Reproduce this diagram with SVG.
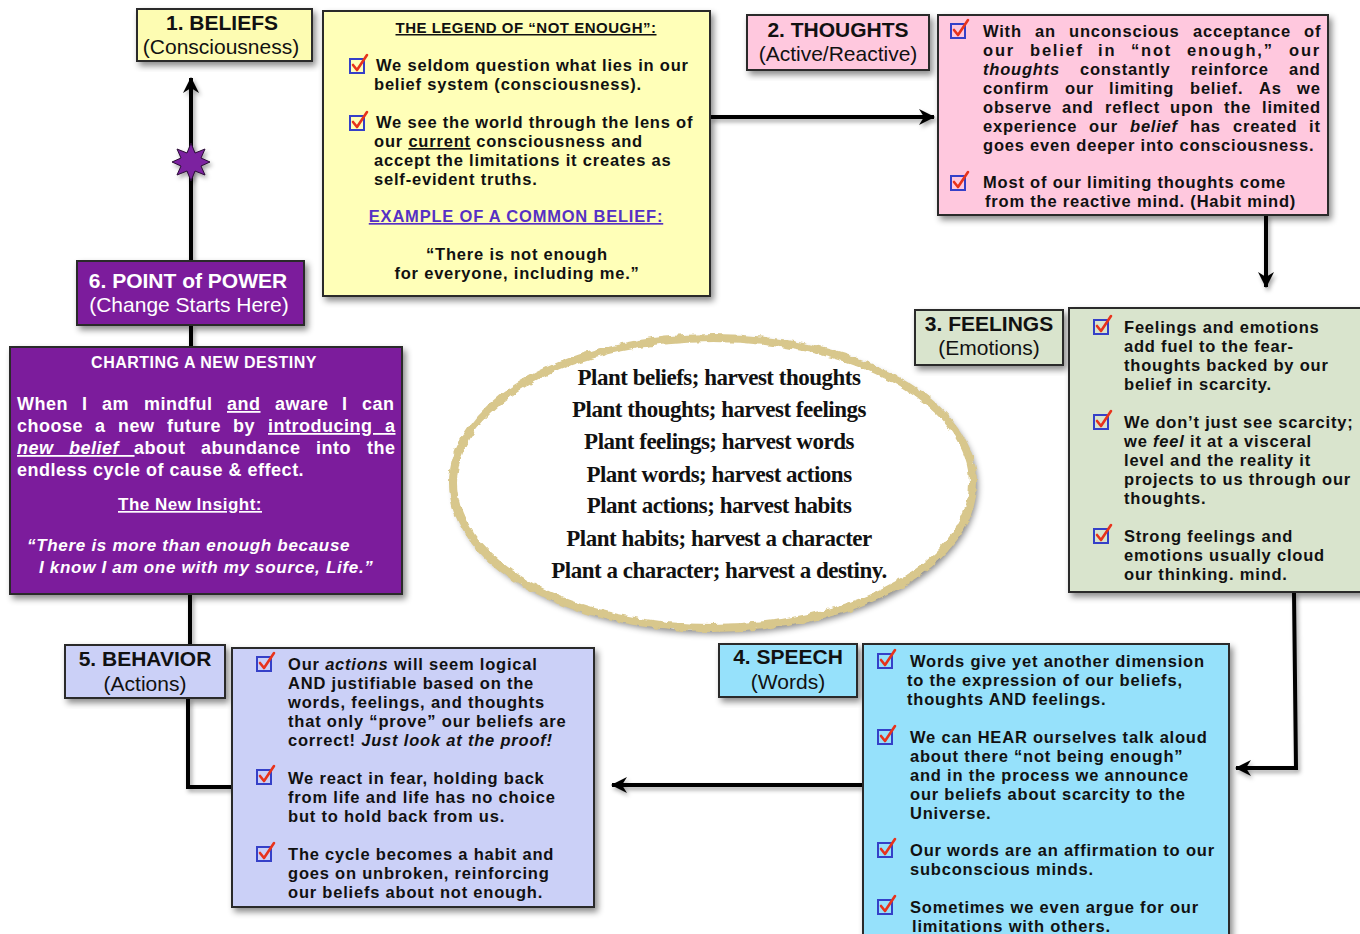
<svg xmlns="http://www.w3.org/2000/svg" xmlns:xlink="http://www.w3.org/1999/xlink" width="1360" height="934" viewBox="0 0 1360 934">
<defs>
<style>
.b{font-family:"Liberation Sans",Arial,sans-serif;font-weight:bold;font-size:16.5px;letter-spacing:0.8px;fill:#111}
.t1{font-family:"Liberation Sans",Arial,sans-serif;font-weight:bold;font-size:21px;fill:#111;text-anchor:middle}
.t2{font-family:"Liberation Sans",Arial,sans-serif;font-size:21px;fill:#111;text-anchor:middle}
.c{font-family:"Liberation Sans",Arial,sans-serif;font-weight:bold;font-size:18px;letter-spacing:0.5px;fill:#fff}
.p{font-family:"Liberation Serif","Times New Roman",serif;font-weight:bold;font-size:23px;letter-spacing:-0.5px;fill:#111;text-anchor:middle}
.u{text-decoration:underline}
.i{font-style:italic}
.box{stroke:#2a2a2a;stroke-width:2;filter:url(#sh)}
.ln{fill:none;stroke:#000;stroke-width:4;filter:url(#sh2)}
</style>
<filter id="sh" x="-10%" y="-10%" width="130%" height="130%">
<feDropShadow dx="3" dy="4" stdDeviation="3" flood-color="#000" flood-opacity="0.45"/>
</filter>
<filter id="sh2" filterUnits="userSpaceOnUse" x="0" y="0" width="1360" height="934">
<feDropShadow dx="2" dy="3" stdDeviation="2" flood-color="#000" flood-opacity="0.35"/>
</filter>
<filter id="rough" x="-5%" y="-5%" width="110%" height="110%">
<feTurbulence type="fractalNoise" baseFrequency="0.12" numOctaves="2" seed="3"/>
<feDisplacementMap in="SourceGraphic" scale="6" xChannelSelector="R" yChannelSelector="G"/>
</filter>
<marker id="ah" viewBox="-16 -9 18 18" markerWidth="18" markerHeight="18" refX="0" refY="0" orient="auto" markerUnits="userSpaceOnUse">
<path d="M1,0 L-15,-8 L-10,0 L-15,8 Z" fill="#000"/>
</marker>
<g id="chk">
<rect x="0" y="2" width="14" height="14" fill="none" stroke="#3540c8" stroke-width="2"/>
<path d="M3,8 L7,13 L17,-2" fill="none" stroke="#e8331c" stroke-width="2.6" stroke-linecap="round" stroke-linejoin="round"/>
</g>
</defs>
<rect width="1360" height="934" fill="#fff"/>

<g id="connectors">
<path class="ln" d="M191,261 V78" marker-end="url(#ah)"/>
<path class="ln" d="M191,325 V348"/>
<path class="ln" d="M190,594 V646"/>
<path class="ln" d="M188,698 V787 H233"/>
<path class="ln" d="M710,117 H934" marker-end="url(#ah)"/>
<path class="ln" d="M1266,215 V287" marker-end="url(#ah)"/>
<path class="ln" d="M1294,592 L1296,768 H1236" marker-end="url(#ah)"/>
<path class="ln" d="M862,785 H612" marker-end="url(#ah)"/>
<polygon points="191,143 195,153 205,149 201,158 210,162 201,166 205,175 195,171 191,181 187,171 177,175 181,166 172,162 181,158 177,149 187,153" fill="#7b22a0" stroke="#2a0a35" stroke-width="1" filter="url(#sh2)"/>
</g>

<g id="ellipse">
<ellipse cx="713" cy="483" rx="262" ry="147" fill="#fff" filter="url(#sh)"/>
<ellipse cx="713" cy="483" rx="260" ry="145" fill="none" stroke="#d8c78c" stroke-width="8" filter="url(#rough)"/>
<text class="p" x="719" y="385">Plant beliefs; harvest thoughts</text>
<text class="p" x="719" y="417">Plant thoughts; harvest feelings</text>
<text class="p" x="719" y="449">Plant feelings; harvest words</text>
<text class="p" x="719" y="482">Plant words; harvest actions</text>
<text class="p" x="719" y="513">Plant actions; harvest habits</text>
<text class="p" x="719" y="546">Plant habits; harvest a character</text>
<text class="p" x="719" y="578">Plant a character; harvest a destiny.</text>
</g>

<g id="beliefs">
<rect class="box" x="137" y="9" width="175" height="52" fill="#fdfcb2"/>
<text class="t1" x="222" y="30">1. BELIEFS</text>
<text class="t2" x="221" y="54">(Consciousness)</text>
</g>

<g id="legend">
<rect class="box" x="323" y="11" width="387" height="285" fill="#ffffb8"/>
<text class="b u" x="526" y="33" text-anchor="middle" style="font-size:15px;letter-spacing:0.5px">THE LEGEND OF “NOT ENOUGH”:</text>
<use xlink:href="#chk" x="350" y="57"/>
<text class="b" x="376" y="71">We seldom question what lies in our</text>
<text class="b" x="374" y="90">belief system (consciousness).</text>
<use xlink:href="#chk" x="350" y="114"/>
<text class="b" x="376" y="128">We see the world through the lens of</text>
<text class="b" x="374" y="147">our <tspan class="u">current</tspan> consciousness and</text>
<text class="b" x="374" y="166">accept the limitations it creates as</text>
<text class="b" x="374" y="185">self-evident truths.</text>
<text class="b u" x="516" y="222" text-anchor="middle" style="fill:#5630c4">EXAMPLE OF A COMMON BELIEF:</text>
<text class="b" x="517" y="260" text-anchor="middle">“There is not enough</text>
<text class="b" x="517" y="279" text-anchor="middle">for everyone, including me.”</text>
</g>

<g id="thoughts">
<rect class="box" x="747" y="15" width="182" height="55" fill="#ffc8de"/>
<text class="t1" x="838" y="37">2. THOUGHTS</text>
<text class="t2" x="838" y="61">(Active/Reactive)</text>
</g>

<g id="thoughts-body">
<rect class="box" x="938" y="15" width="390" height="200" fill="#ffc8de"/>
<use xlink:href="#chk" x="951" y="22"/>
<text class="b" y="37"><tspan x="983">With</tspan><tspan x="1035">an</tspan><tspan x="1069">unconscious</tspan><tspan x="1193">acceptance</tspan><tspan x="1304">of</tspan></text>
<text class="b" y="56" style="letter-spacing:1.8px"><tspan x="983">our</tspan><tspan x="1030">belief</tspan><tspan x="1098">in</tspan><tspan x="1131">“not</tspan><tspan x="1187">enough,”</tspan><tspan x="1289">our</tspan></text>
<text class="b" y="75"><tspan x="983" class="i">thoughts</tspan><tspan x="1080">constantly</tspan><tspan x="1191">reinforce</tspan><tspan x="1289">and</tspan></text>
<text class="b" y="94"><tspan x="983">confirm</tspan><tspan x="1065">our</tspan><tspan x="1109">limiting</tspan><tspan x="1190">belief.</tspan><tspan x="1259">As</tspan><tspan x="1297">we</tspan></text>
<text class="b" y="113"><tspan x="983">observe</tspan><tspan x="1062">and</tspan><tspan x="1105">reflect</tspan><tspan x="1170">upon</tspan><tspan x="1224">the</tspan><tspan x="1262">limited</tspan></text>
<text class="b" y="132"><tspan x="983">experience</tspan><tspan x="1089">our</tspan><tspan x="1130" class="i">belief</tspan><tspan x="1190">has</tspan><tspan x="1233">created</tspan><tspan x="1309">it</tspan></text>
<text class="b" x="983" y="151">goes even deeper into consciousness.</text>
<use xlink:href="#chk" x="951" y="174"/>
<text class="b" x="983" y="188">Most of our limiting thoughts come</text>
<text class="b" x="985" y="207">from the reactive mind. (Habit mind)</text>
</g>

<g id="feelings">
<rect class="box" x="915" y="310" width="148" height="55" fill="#d9e4cd"/>
<text class="t1" x="989" y="331">3. FEELINGS</text>
<text class="t2" x="989" y="355">(Emotions)</text>
</g>

<g id="feelings-body">
<rect class="box" x="1069" y="308" width="295" height="284" fill="#d9e4cd"/>
<use xlink:href="#chk" x="1094" y="318"/>
<text class="b" x="1124" y="333">Feelings and emotions</text>
<text class="b" x="1124" y="352">add fuel to the fear-</text>
<text class="b" x="1124" y="371">thoughts backed by our</text>
<text class="b" x="1124" y="390">belief in scarcity.</text>
<use xlink:href="#chk" x="1094" y="413"/>
<text class="b" x="1124" y="428">We don’t just see scarcity;</text>
<text class="b" x="1124" y="447">we <tspan class="i">feel</tspan> it at a visceral</text>
<text class="b" x="1124" y="466">level and the reality it</text>
<text class="b" x="1124" y="485">projects to us through our</text>
<text class="b" x="1124" y="504">thoughts.</text>
<use xlink:href="#chk" x="1094" y="527"/>
<text class="b" x="1124" y="542">Strong feelings and</text>
<text class="b" x="1124" y="561">emotions usually cloud</text>
<text class="b" x="1124" y="580">our thinking. mind.</text>
</g>

<g id="point-of-power">
<rect class="box" x="77" y="261" width="227" height="64" fill="#7b1e9c"/>
<text class="t1" x="188" y="288" style="fill:#fff">6. POINT of POWER</text>
<text class="t2" x="189" y="312" style="fill:#fff">(Change Starts Here)</text>
</g>

<g id="charting">
<rect class="box" x="10" y="347" width="392" height="247" fill="#7b1e9c"/>
<text class="c" x="204" y="368" text-anchor="middle" style="font-size:16px;letter-spacing:0.5px">CHARTING A NEW DESTINY</text>
<text class="c" y="410"><tspan x="17">When</tspan><tspan x="82">I</tspan><tspan x="102">am</tspan><tspan x="144">mindful</tspan><tspan x="227" class="u">and</tspan><tspan x="275">aware</tspan><tspan x="342">I</tspan><tspan x="362">can</tspan></text>
<text class="c" y="432"><tspan x="17">choose</tspan><tspan x="95">a</tspan><tspan x="118">new</tspan><tspan x="167">future</tspan><tspan x="233">by</tspan><tspan x="268" class="u" style="word-spacing:7px">introducing a</tspan></text>
<text class="c" y="454"><tspan x="17" class="u i" style="word-spacing:10px">new belief </tspan><tspan x="134">about</tspan><tspan x="201">abundance</tspan><tspan x="316">into</tspan><tspan x="367">the</tspan></text>
<text class="c" x="17" y="476">endless cycle of cause &amp; effect.</text>
<text class="c u" x="190" y="510" text-anchor="middle" style="font-size:17px">The New Insight:</text>
<text class="c i" x="27" y="551" style="font-size:17px;letter-spacing:0.7px">“There is more than enough because</text>
<text class="c i" x="39" y="573" style="font-size:17px;letter-spacing:0.7px">I know I am one with my source, Life.”</text>
</g>

<g id="behavior">
<rect class="box" x="65" y="645" width="160" height="53" fill="#cbd0f7"/>
<text class="t1" x="145" y="666">5. BEHAVIOR</text>
<text class="t2" x="145" y="691">(Actions)</text>
</g>

<g id="behavior-body">
<rect class="box" x="232" y="648" width="362" height="259" fill="#cbd0f7"/>
<use xlink:href="#chk" x="257" y="655"/>
<text class="b" x="288" y="670">Our <tspan class="i">actions</tspan> will seem logical</text>
<text class="b" x="288" y="689">AND justifiable based on the</text>
<text class="b" x="288" y="708">words, feelings, and thoughts</text>
<text class="b" x="288" y="727">that only “prove” our beliefs are</text>
<text class="b" x="288" y="746">correct! <tspan class="i">Just look at the proof!</tspan></text>
<use xlink:href="#chk" x="257" y="768"/>
<text class="b" x="288" y="784">We react in fear, holding back</text>
<text class="b" x="288" y="803">from life and life has no choice</text>
<text class="b" x="288" y="822">but to hold back from us.</text>
<use xlink:href="#chk" x="257" y="845"/>
<text class="b" x="288" y="860">The cycle becomes a habit and</text>
<text class="b" x="288" y="879">goes on unbroken, reinforcing</text>
<text class="b" x="288" y="898">our beliefs about not enough.</text>
</g>

<g id="speech">
<rect class="box" x="719" y="644" width="138" height="53" fill="#96e1fb"/>
<text class="t1" x="788" y="664">4. SPEECH</text>
<text class="t2" x="788" y="689">(Words)</text>
</g>

<g id="speech-body">
<rect class="box" x="863" y="644" width="366" height="300" fill="#96e1fb"/>
<use xlink:href="#chk" x="878" y="652"/>
<text class="b" x="910" y="667">Words give yet another dimension</text>
<text class="b" x="907" y="686">to the expression of our beliefs,</text>
<text class="b" x="907" y="705">thoughts AND feelings.</text>
<use xlink:href="#chk" x="878" y="728"/>
<text class="b" x="910" y="743">We can HEAR ourselves talk aloud</text>
<text class="b" x="910" y="762">about there “not being enough”</text>
<text class="b" x="910" y="781">and in the process we announce</text>
<text class="b" x="910" y="800">our beliefs about scarcity to the</text>
<text class="b" x="910" y="819">Universe.</text>
<use xlink:href="#chk" x="878" y="841"/>
<text class="b" x="910" y="856">Our words are an affirmation to our</text>
<text class="b" x="910" y="875">subconscious minds.</text>
<use xlink:href="#chk" x="878" y="898"/>
<text class="b" x="910" y="913">Sometimes we even argue for our</text>
<text class="b" x="912" y="932">limitations with others.</text>
</g>
</svg>
